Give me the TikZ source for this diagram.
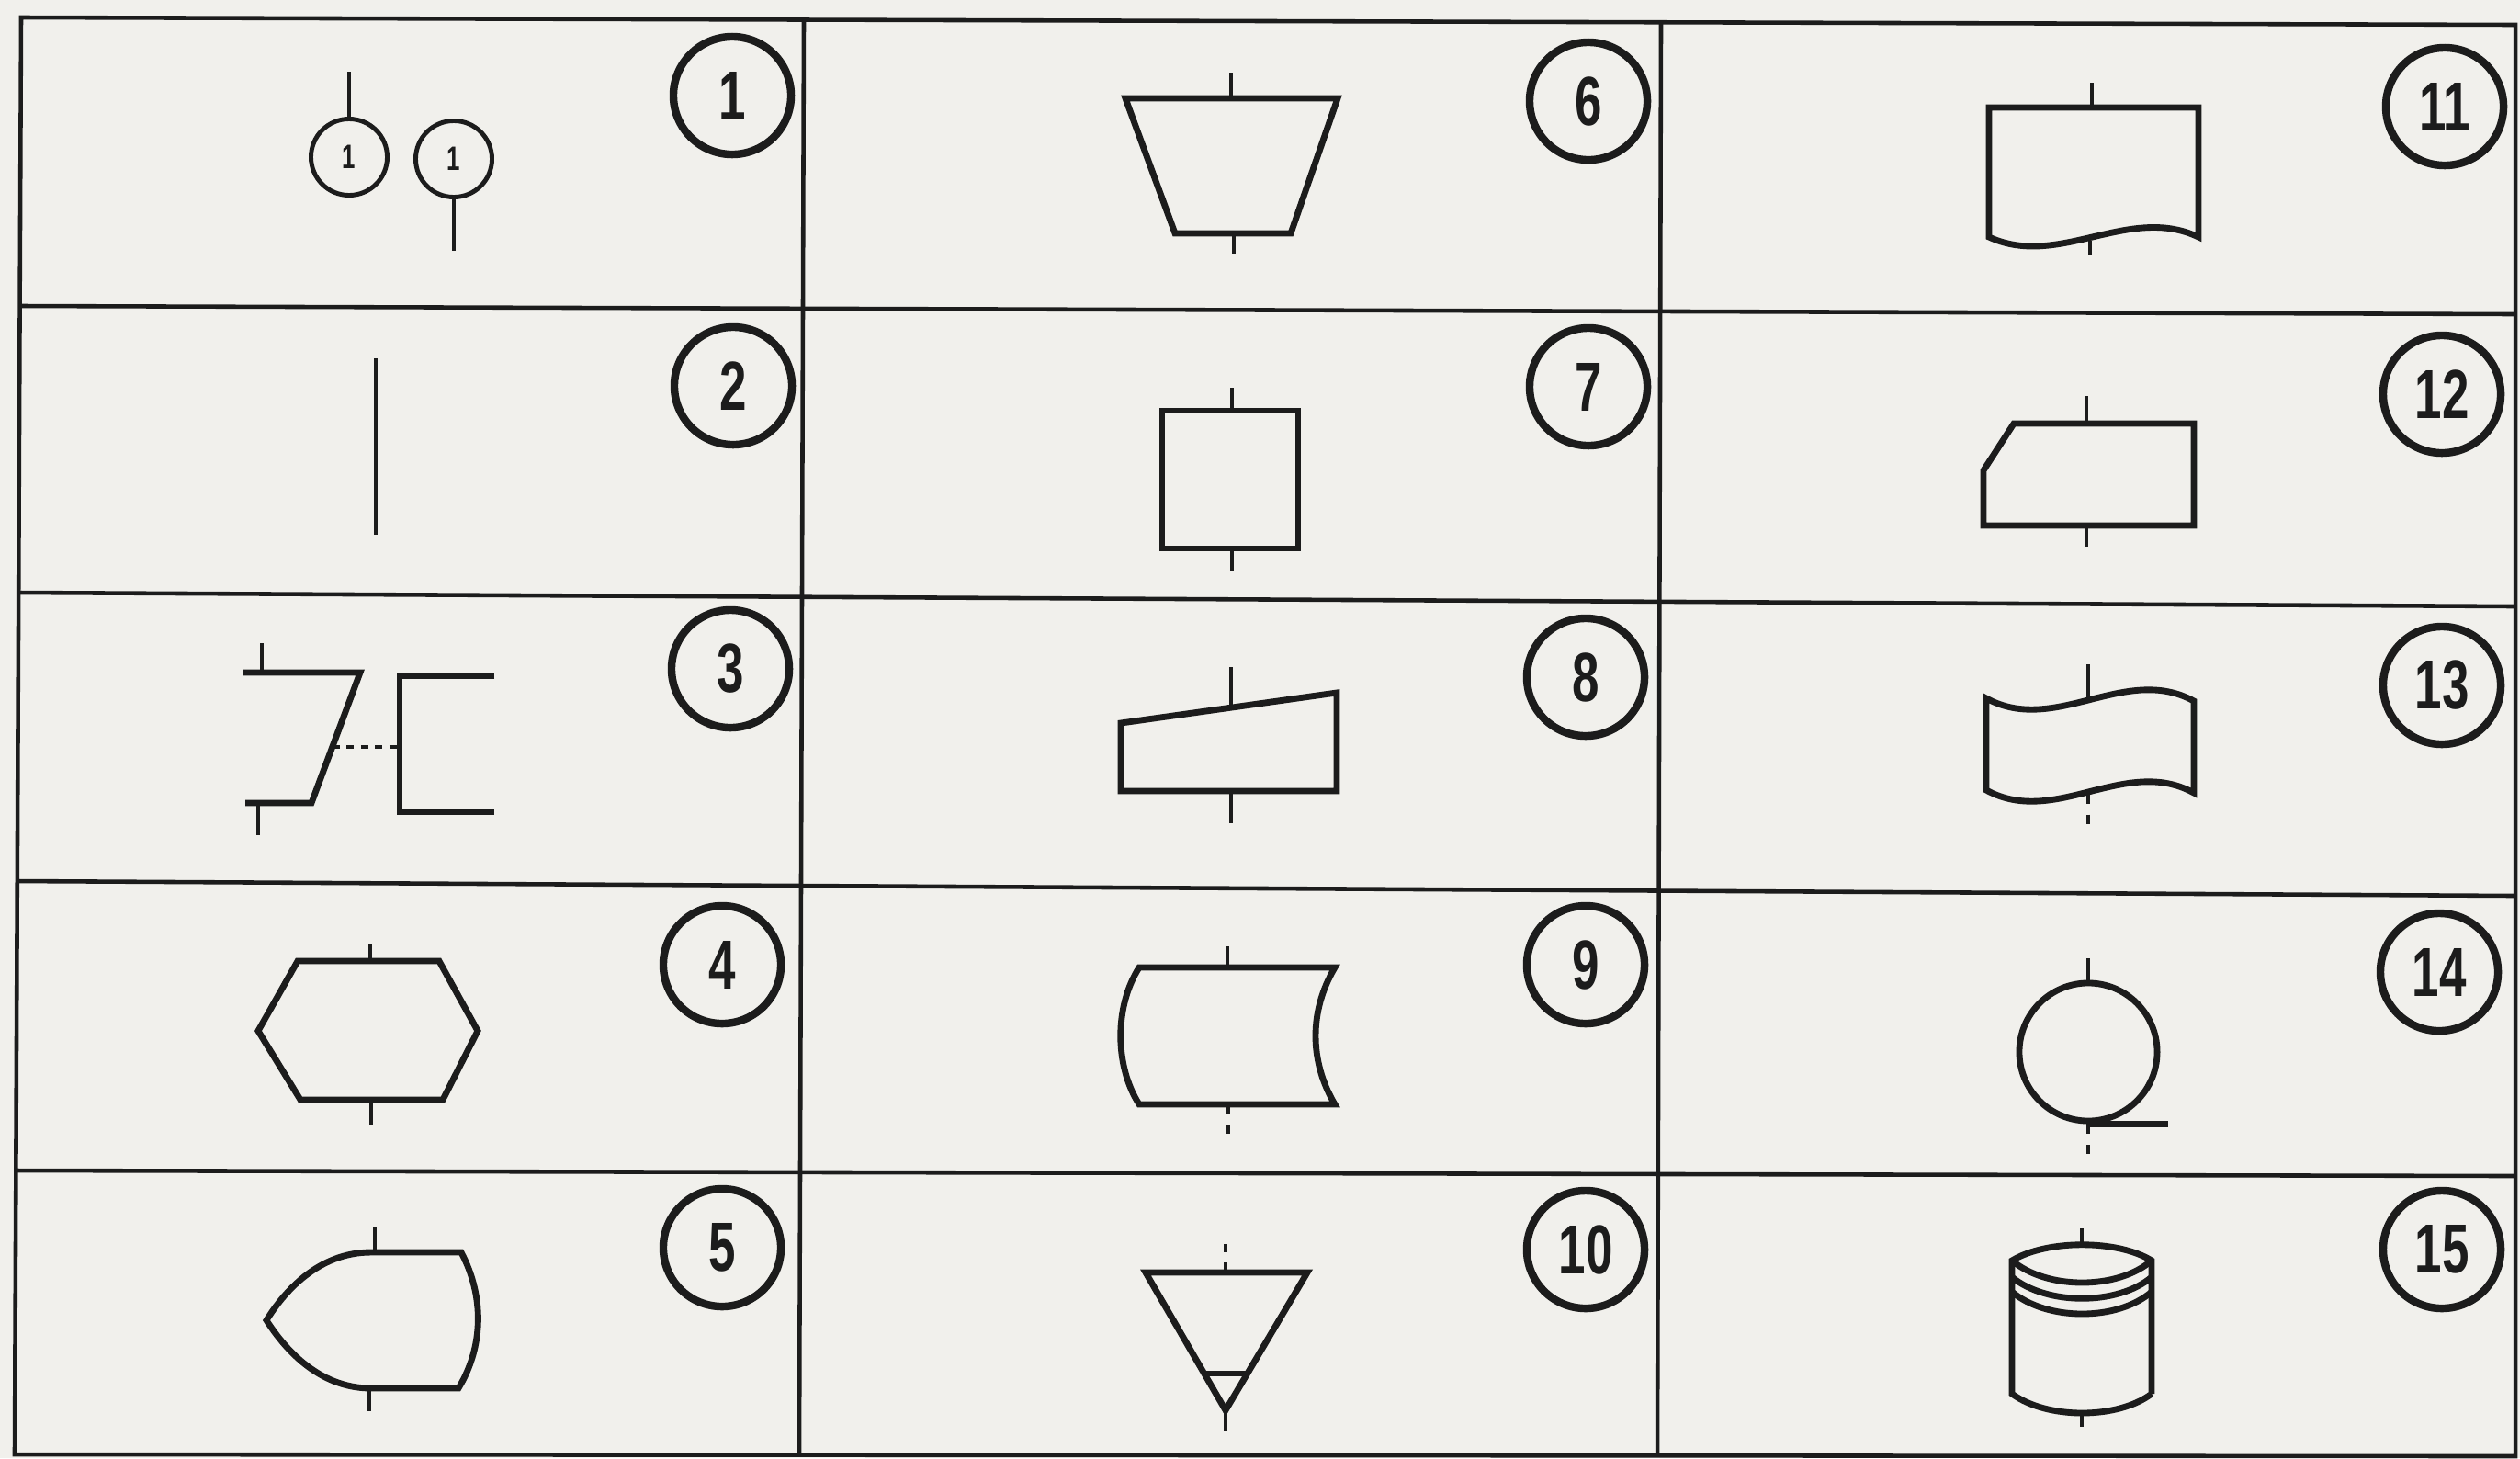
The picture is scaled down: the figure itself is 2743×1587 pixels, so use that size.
\documentclass[tikz,border=0pt]{standalone}
\usepackage{fontspec}
\newfontfamily\numfont[FakeStretch=0.7]{Liberation Sans}
\definecolor{paper}{HTML}{F1F0EC}
\definecolor{ink}{HTML}{1C1C1C}
\tikzset{
	gridln/.style={draw=ink, line width=1.3pt},
	symb/.style={draw=ink, line width=1.95pt, line join=miter},
	stub/.style={draw=ink, line width=1.1pt},
	dstub/.style={stub, dash pattern=on 3pt off 3.4pt},
	numc/.style={circle, draw=ink, line width=2.4pt, minimum size=1.28cm, inner sep=0pt,
		text=ink, font=\numfont\bfseries\fontsize{21.5}{21.5}\selectfont},
	smallc/.style={circle, draw=ink, line width=1.4pt, minimum size=0.83cm, inner sep=0pt,
		text=ink, font=\numfont\bfseries\fontsize{10.5}{10.5}\selectfont}
}

\begin{document}
\begin{tikzpicture}[x=0.01cm, y=-0.01cm]
	\useasboundingbox (0,0) rectangle (2743,1587);
	\fill[paper] (0,0) rectangle (2743,1587);

	\draw[gridln] (23,19) -- (2738,27) -- (2738,1585) -- (16,1583) -- cycle;
	\draw[gridln] (875,19) -- (870,1583);
	\draw[gridln] (1808,22) -- (1804,1584);
	\draw[gridln] (23,333) -- (2738,342);
	\draw[gridln] (20,645) -- (2738,660);
	\draw[gridln] (19,959) -- (2738,975);
	\draw[gridln] (17,1274) -- (2738,1280);

	\foreach \n/\x/\y in {1/797/104, 2/798/420, 3/795/728, 4/786/1050, 5/786/1358,
		6/1729/110, 7/1729/421, 8/1726/737, 9/1726/1050, 10/1726/1360,
		11/2661/116, 12/2658/429, 13/2658/746, 14/2655/1058, 15/2658/1360}
		\node[numc] (n\n) at (\x,\y) {\n};

	\node[smallc] (conin) at (380,171) {1};
	\node[smallc] (conout) at (494,173) {1};
	\draw[stub] (conin.north) -- ++(0,-49);
	\draw[stub] (conout.south) -- ++(0,56);

	\draw[stub] (409,390) -- (409,582);

	\draw[symb] (264,732) -- (392,732) -- (339,874) -- (267,874);
	\draw[stub] (285,732) -- (285,700);
	\draw[stub] (281,874) -- (281,909);
	\draw[stub, dash pattern=on 2.2pt off 2.2pt] (362,813) -- (435,813);
	\draw[symb] (538,736) -- (435,736) -- (435,884) -- (538,884);

	\draw[symb] (324,1046) -- (478,1046) -- (520,1122) -- (482,1197) -- (327,1197) -- (281,1122) -- cycle;
	\draw[stub] (403,1046) -- (403,1027);
	\draw[stub] (404,1197) -- (404,1225);

	\draw[symb] (404,1363) -- (502,1363) .. controls (527,1410) and (527,1465) .. (499,1511)
		-- (404,1511) .. controls (345,1511) and (308,1465) .. (290,1437)
		.. controls (308,1408) and (345,1363) .. (404,1363) -- cycle;
	\draw[stub] (408,1363) -- (408,1336);
	\draw[stub] (402,1511) -- (402,1536);

	\draw[symb] (1225,107) -- (1456,107) -- (1405,254) -- (1279,254) -- cycle;
	\draw[stub] (1340,107) -- (1340,79);
	\draw[stub] (1343,254) -- (1343,277);

	\draw[symb] (1265,447) rectangle (1413,597);
	\draw[stub] (1341,447) -- (1341,422);
	\draw[stub] (1341,597) -- (1341,622);

	\draw[symb] (1220,787) -- (1455,754) -- (1455,861) -- (1220,861) -- cycle;
	\draw[stub] (1340,770) -- (1340,726);
	\draw[stub] (1340,861) -- (1340,896);

	\draw[symb] (1240,1053) -- (1453,1053) .. controls (1425,1100) and (1425,1155) .. (1453,1202)
		-- (1240,1202) .. controls (1213,1160) and (1213,1095) .. (1240,1053) -- cycle;
	\draw[stub] (1336,1053) -- (1336,1030);
	\draw[dstub] (1337,1202) -- (1337,1234);

	\draw[symb] (1247,1385) -- (1423,1385) -- (1334,1535) -- cycle;
	\draw[symb] (1311,1495) -- (1357,1495);
	\draw[dstub] (1334,1385) -- (1334,1354);
	\draw[stub] (1334,1535) -- (1334,1557);

	\draw[symb] (2165,258) -- (2165,117) -- (2393,117) -- (2393,258)
		.. controls (2317,222) and (2241,293) .. (2165,258) -- cycle;
	\draw[stub] (2277,117) -- (2277,90);
	\draw[stub] (2275,262) -- (2275,278);

	\draw[symb] (2192,461) -- (2388,461) -- (2388,572) -- (2159,572) -- (2159,512) -- cycle;
	\draw[stub] (2271,461) -- (2271,431);
	\draw[stub] (2271,572) -- (2271,595);

	\draw[symb] (2162,760) .. controls (2237,801) and (2313,722) .. (2388,763) -- (2388,863)
		.. controls (2313,822) and (2237,901) .. (2162,860) -- cycle;
	\draw[stub] (2273,762) -- (2273,723);
	\draw[dstub] (2273,864) -- (2273,900);

	\node[circle, draw=ink, line width=1.95pt, minimum size=1.5cm, inner sep=0pt] (tape) at (2273,1145) {};
	\draw[symb] (tape.south) -- ++(87,0);
	\draw[stub] (tape.north) -- ++(0,-24);
	\draw[dstub] (tape.south) -- ++(0,32);

	\draw[symb] (2342,1517) -- (2342,1372) .. controls (2305,1349) and (2228,1349) .. (2190,1372)
		-- (2190,1517) .. controls (2228,1545) and (2305,1545) .. (2342,1517);
	\draw[symb] (2190,1372) .. controls (2228,1404) and (2305,1404) .. (2342,1372);
	\draw[symb] (2190,1390) .. controls (2228,1421) and (2305,1421) .. (2342,1390);
	\draw[symb] (2190,1406) .. controls (2228,1438) and (2305,1438) .. (2342,1406);
	\draw[stub] (2266,1355) -- (2266,1337);
	\draw[stub] (2266,1538) -- (2266,1553);
\end{tikzpicture}
\end{document}
